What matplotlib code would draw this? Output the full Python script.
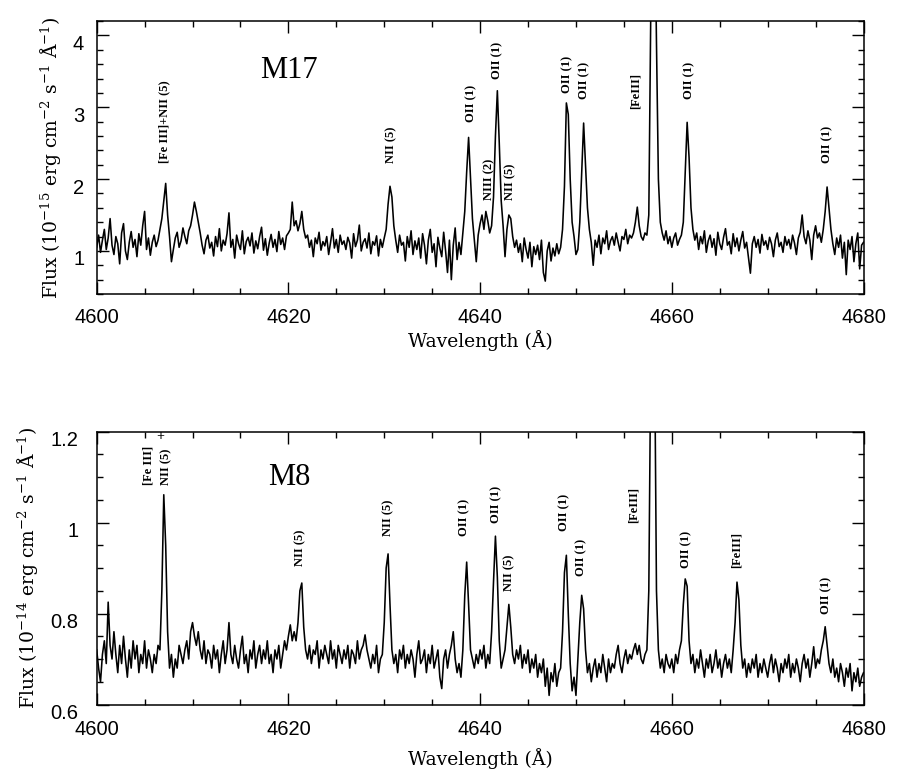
import matplotlib
matplotlib.use('Agg')
import numpy as np
import matplotlib.pyplot as plt
from matplotlib.ticker import MultipleLocator, FuncFormatter
from matplotlib.transforms import ScaledTranslation

plt.rcParams['mathtext.fontset'] = 'dejavuserif'

wave_start, wave_end = 4600.0, 4680.0

m17_flux = [
    1.05, 1.22, 0.98, 1.15, 1.30, 1.02, 1.18, 1.45, 1.08, 0.95,
    1.20, 1.10, 0.82, 1.25, 1.38, 1.00, 0.88, 1.12, 1.27, 1.05,
    1.16, 0.92, 1.24, 1.08, 1.35, 1.55, 1.02, 1.18, 0.94, 1.12,
    1.22, 1.06, 1.15, 1.30, 1.45, 1.70, 1.94, 1.50, 1.20, 0.85,
    1.02, 1.18, 1.26, 1.05, 1.14, 1.32, 1.20, 1.10, 1.28, 1.35,
    1.50, 1.68, 1.55, 1.40, 1.25, 1.08, 0.96, 1.15, 1.22, 1.04,
    1.12, 0.93, 1.20, 1.06, 1.31, 1.00, 1.15, 1.08, 1.24, 1.53,
    1.05, 1.16, 0.90, 1.22, 1.10, 1.02, 1.28, 0.96, 1.13, 1.19,
    1.07, 1.25, 0.97, 1.14, 1.03, 1.20, 1.33, 1.01, 1.17, 0.94,
    1.11, 1.23, 1.05, 1.16, 0.99, 1.27, 1.09, 1.18, 1.02, 1.21,
    1.25, 1.30, 1.68, 1.35, 1.42, 1.28, 1.38, 1.55, 1.30, 1.18,
    1.22, 1.05, 1.15, 0.92, 1.18, 1.10, 1.26, 1.01, 1.13, 1.07,
    1.20, 0.95, 1.12, 1.31, 1.04, 1.16, 0.98, 1.22, 1.09, 1.14,
    1.02, 1.19, 1.11, 0.90, 1.24, 1.06, 1.15, 1.36, 1.00, 1.12,
    1.17, 1.04, 1.25, 0.96, 1.13, 1.08, 1.21, 0.93, 1.16, 1.05,
    1.18, 1.30, 1.65, 1.90, 1.75, 1.35, 1.15, 0.98, 1.22, 1.08,
    1.12, 0.86, 1.20, 1.05, 1.28, 0.95, 1.14, 1.02, 1.18, 0.90,
    1.24, 1.08, 0.82, 1.15, 1.30, 0.98, 1.10, 0.78, 1.19, 1.04,
    0.92, 1.26, 1.00, 0.70, 1.15, 0.60, 1.08, 1.32, 0.88, 1.12,
    0.95, 1.25, 1.55, 2.10, 2.58, 2.00, 1.45, 1.15, 0.85, 1.22,
    1.38, 1.50, 1.30, 1.55, 1.42, 1.25, 1.35, 1.75, 2.60, 3.23,
    2.50, 1.70, 1.35, 0.92, 1.30, 1.50, 1.45, 1.20, 1.05, 1.15,
    0.98, 1.10, 0.85, 1.18, 1.02, 0.90, 1.12, 0.78, 1.06, 0.95,
    1.08, 0.88, 1.15, 0.70, 0.58, 1.00, 1.12, 0.86, 1.04, 0.93,
    1.10, 0.96, 1.05, 1.30, 1.90, 3.06, 2.90, 2.00, 1.40, 1.20,
    0.95, 1.02, 1.40, 2.10, 2.78, 2.20, 1.60, 1.30, 1.12, 0.80,
    1.15, 1.05, 1.22, 0.96, 1.18, 1.10, 1.28, 1.02, 1.14, 1.20,
    1.08, 1.25, 1.12, 1.00, 1.20, 1.16, 1.30, 1.10, 1.22, 1.18,
    1.25, 1.40, 1.61, 1.35, 1.20, 1.15, 1.25, 1.22, 1.50, 4.30,
    6.50, 6.00, 3.90, 2.00, 1.40, 1.25, 1.15, 1.28, 1.10, 1.20,
    1.05, 1.18, 1.25, 1.08, 1.16, 1.22, 1.40, 2.10, 2.79, 2.30,
    1.60, 1.30, 1.15, 1.25, 1.02, 1.20, 1.10, 1.28, 0.98, 1.14,
    1.22, 1.05, 1.17, 0.94, 1.26, 1.10, 1.02, 1.19, 1.31, 1.08,
    1.13, 0.96, 1.24, 1.06, 1.18, 1.00, 1.15, 1.27, 1.04, 1.12,
    0.90, 0.69, 1.10, 1.20, 1.05, 1.16, 0.97, 1.23, 1.08, 1.14,
    1.02, 1.19, 1.10, 0.92, 1.15, 1.25, 1.06, 1.12, 0.98, 1.20,
    1.08, 1.16, 1.03, 1.22, 1.11, 0.95, 1.18, 1.26, 1.50, 1.20,
    1.10, 1.28, 1.15, 0.88, 1.22, 1.35, 1.18, 1.25, 1.12, 1.30,
    1.55, 1.89, 1.60, 1.30, 1.10, 0.95, 1.18, 1.05, 1.22, 0.90,
    1.12, 0.67, 1.15, 1.02, 1.20, 0.85, 1.10, 1.25, 0.75, 1.08,
    1.12,
]

m8_flux = [
    0.72, 0.68, 0.65, 0.71, 0.74, 0.69, 0.825, 0.73, 0.70, 0.76,
    0.71, 0.67, 0.73, 0.69, 0.75, 0.70, 0.66, 0.72, 0.68, 0.74,
    0.70, 0.73, 0.67, 0.71, 0.69, 0.74, 0.68, 0.72, 0.70, 0.67,
    0.71, 0.69, 0.73, 0.72, 0.85, 1.061, 0.95, 0.76, 0.68, 0.71,
    0.66, 0.70, 0.68, 0.73, 0.71, 0.69, 0.72, 0.74, 0.70, 0.76,
    0.78, 0.75, 0.73, 0.76, 0.72, 0.70, 0.74, 0.69, 0.72, 0.71,
    0.68, 0.73, 0.70, 0.72, 0.67, 0.71, 0.74, 0.69, 0.72, 0.78,
    0.71, 0.69, 0.73, 0.70, 0.68, 0.72, 0.75, 0.69, 0.71, 0.67,
    0.72, 0.70, 0.74, 0.68, 0.71, 0.73, 0.69, 0.72, 0.70, 0.74,
    0.69, 0.71, 0.67, 0.72, 0.70, 0.73, 0.68, 0.71, 0.74, 0.72,
    0.75, 0.775, 0.74, 0.76, 0.74, 0.78, 0.85, 0.867, 0.77, 0.72,
    0.70, 0.73, 0.69, 0.72, 0.71, 0.74, 0.68, 0.72, 0.70, 0.73,
    0.71, 0.69, 0.74, 0.70, 0.72, 0.68, 0.73, 0.71, 0.69, 0.72,
    0.70, 0.73, 0.68, 0.72, 0.71, 0.69, 0.74, 0.70, 0.72, 0.73,
    0.753, 0.72, 0.70, 0.68, 0.71, 0.69, 0.73, 0.67, 0.70, 0.71,
    0.78, 0.90, 0.931, 0.82, 0.72, 0.69, 0.71, 0.67, 0.72, 0.70,
    0.73, 0.68, 0.71, 0.69, 0.72, 0.70, 0.66, 0.71, 0.74, 0.69,
    0.70, 0.72, 0.67, 0.71, 0.69, 0.73, 0.68, 0.70, 0.72, 0.66,
    0.635, 0.70, 0.72, 0.68, 0.71, 0.73, 0.76, 0.70, 0.67, 0.69,
    0.66, 0.72, 0.84, 0.913, 0.82, 0.72, 0.70, 0.68, 0.71, 0.69,
    0.72, 0.70, 0.73, 0.68, 0.71, 0.69, 0.76, 0.87, 0.97, 0.88,
    0.74, 0.68, 0.70, 0.72, 0.77, 0.82, 0.77, 0.71, 0.69, 0.72,
    0.70, 0.73, 0.68, 0.71, 0.69, 0.72, 0.67, 0.70, 0.68, 0.71,
    0.66, 0.69, 0.67, 0.70, 0.64, 0.68, 0.62, 0.67, 0.65, 0.69,
    0.64, 0.67, 0.68, 0.76, 0.89, 0.928, 0.80, 0.69, 0.63, 0.66,
    0.62, 0.70, 0.78, 0.84, 0.81, 0.72, 0.67, 0.69, 0.65, 0.68,
    0.70, 0.66, 0.69, 0.67, 0.71, 0.68, 0.65, 0.70, 0.67, 0.69,
    0.68, 0.71, 0.73, 0.69, 0.67, 0.70, 0.72, 0.69, 0.71, 0.70,
    0.72, 0.734, 0.71, 0.73, 0.70, 0.69, 0.71, 0.72, 0.85, 1.35,
    1.80, 1.40, 0.85, 0.72, 0.68, 0.70, 0.67, 0.71, 0.69, 0.68,
    0.70, 0.67, 0.71, 0.69, 0.72, 0.74, 0.82, 0.876, 0.86, 0.74,
    0.69, 0.71, 0.67, 0.70, 0.68, 0.72, 0.69, 0.66, 0.70, 0.68,
    0.71, 0.67, 0.69, 0.72, 0.68, 0.70, 0.66, 0.69, 0.71, 0.68,
    0.70, 0.67, 0.72, 0.78, 0.869, 0.83, 0.73, 0.68, 0.70, 0.66,
    0.69, 0.67, 0.70, 0.68, 0.71, 0.66, 0.69, 0.67, 0.70, 0.68,
    0.66, 0.69, 0.71, 0.67, 0.70, 0.68, 0.65, 0.69, 0.67, 0.70,
    0.68, 0.71, 0.66, 0.69, 0.67, 0.70, 0.68, 0.65, 0.69, 0.71,
    0.68, 0.70, 0.66, 0.69, 0.727, 0.68, 0.70, 0.69, 0.72, 0.74,
    0.771, 0.73, 0.69, 0.67, 0.70, 0.66, 0.68, 0.65, 0.69, 0.67,
    0.64, 0.68, 0.66, 0.69, 0.63, 0.67, 0.65, 0.68, 0.64, 0.66,
    0.67,
]

# line identifications: label, wavelength of label, flux at label bottom
m17_ids = ['[Fe III]+NII (5)', 'NII (5)', 'OII (1)', 'NIII (2)', 'OII (1)', 'NII (5)',
           'OII (1)', 'OII (1)', '[FeIII]', 'OII (1)', 'OII (1)']
m17_id_wave = [4607.1, 4630.75, 4639.1, 4641.0, 4641.8, 4643.1,
               4649.1, 4650.9, 4656.2, 4661.8, 4676.2]
m17_id_flux = [2.22, 2.22, 2.80, 1.71, 3.40, 1.71, 3.20, 3.12, 2.98, 3.12, 2.22]

m8_ids = ['[Fe III]', 'NII (5)', 'NII (5)', 'NII (5)', 'OII (1)', 'OII (1)', 'NII (5)',
          'OII (1)', 'OII (1)', '[FeIII]', 'OII (1)', '[FeIII]', 'OII (1)']
m8_id_wave = [4605.4, 4607.3, 4621.2, 4630.4, 4638.4, 4641.7, 4643.0,
              4648.8, 4650.6, 4656.0, 4661.5, 4666.8, 4676.1]
m8_id_flux = [1.083, 1.083, 0.904, 0.970, 0.970, 0.999, 0.849,
              0.981, 0.882, 0.999, 0.900, 0.900, 0.800]


def fmt(v, pos):
    return '%g' % v


def draw_panel(ax, flux, ylim, yticks, yminor, name, name_pos, ids, id_wave, id_flux,
               ytick_pad, xtick_pad, ylabel_x, xlabel_y, expo):
    wave = np.linspace(wave_start, wave_end, len(flux))
    ax.plot(wave, flux, color='black', lw=1.15)
    ax.set_xlim(wave_start, wave_end)
    ax.set_ylim(*ylim)

    ax.xaxis.set_major_locator(MultipleLocator(20))
    ax.xaxis.set_minor_locator(MultipleLocator(5))
    ax.set_yticks(yticks)
    ax.yaxis.set_minor_locator(MultipleLocator(yminor))
    ax.yaxis.set_major_formatter(FuncFormatter(fmt))
    ax.tick_params(which='both', direction='in', top=True, right=True, width=1.0,
                   labelsize=14.5)
    ax.tick_params(axis='y', which='major', length=8.6, pad=ytick_pad)
    ax.tick_params(axis='x', which='major', length=8.6, pad=xtick_pad)
    ax.tick_params(which='minor', length=4.3)
    for lab in ax.get_xticklabels() + ax.get_yticklabels():
        lab.set_fontfamily('Liberation Sans')
    # y tick labels sit a little below their ticks in the original
    shift = ScaledTranslation(0, -5 / 72.0, ax.figure.dpi_scale_trans)
    for lab in ax.get_yticklabels():
        lab.set_transform(lab.get_transform() + shift)
    for s in ax.spines.values():
        s.set_linewidth(1.1)

    ax.set_xlabel('Wavelength (Å)', family='DejaVu Serif', fontsize=13.5)
    ax.xaxis.set_label_coords(0.5, xlabel_y)
    ax.set_ylabel('Flux (10$^{%s}$ erg cm$^{-2}$ s$^{-1}$ Å$^{-1}$)' % expo,
                  family='DejaVu Serif', fontsize=13.5)
    ax.yaxis.set_label_coords(ylabel_x, 0.5)

    ax.text(name_pos[0], name_pos[1], name, transform=ax.transAxes, ha='left',
            va='center', family='Liberation Serif', fontsize=22)

    for lab, w, f in zip(ids, id_wave, id_flux):
        ax.text(w, f, lab, rotation=90, ha='center', va='bottom',
                family='Liberation Serif', fontweight='bold', fontsize=9)


fig = plt.figure(figsize=(9.01, 7.82), dpi=100)
ax1 = fig.add_axes([0.1073, 0.6240, 0.8511, 0.3491])
ax2 = fig.add_axes([0.1073, 0.0991, 0.8511, 0.3491])

draw_panel(ax1, m17_flux, (0.4, 4.2), [1, 2, 3, 4], 0.2, 'M17', (0.213, 0.82),
           m17_ids, m17_id_wave, m17_id_flux, 9, 10, -0.044, -0.132, '-15')
draw_panel(ax2, m8_flux, (0.6, 1.2), [0.6, 0.8, 1.0, 1.2], 0.05, 'M8', (0.2234, 0.83),
           m8_ids, m8_id_wave, m8_id_flux, 13, 11, -0.074, -0.159, '-14')
# the '+' joining [Fe III] and NII (5) in the M8 panel
ax2.text(4606.6, 1.19, '+', ha='center', va='center', family='Liberation Serif',
         fontweight='bold', fontsize=10)

fig.savefig('out.png', dpi=100)
